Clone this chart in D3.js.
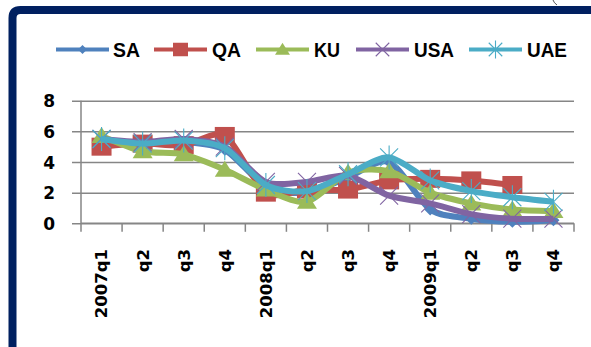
<!DOCTYPE html>
<html>
<head>
<meta charset="utf-8">
<script src="https://cdn.jsdelivr.net/npm/d3@7"></script>
<style>
  html, body { margin: 0; padding: 0; background: #fff; }
  svg { display: block; }
</style>
</head>
<body>
<svg id="chart" width="591" height="347"></svg>
<script>
// Quarterly series, 2007q1 – 2009q4
const quarters = ["2007q1", "q2", "q3", "q4", "2008q1", "q2 ", "q3 ", "q4 ", "2009q1", "q2  ", "q3  ", "q4  "];
const quarterLabels = ["2007q1", "q2", "q3", "q4", "2008q1", "q2", "q3", "q4", "2009q1", "q2", "q3", "q4"];
const seriesNames = ["SA", "QA", "KU", "USA", "UAE"];
const saValues  = [5.4, 5.2, 5.3, 4.8, 2.4, 2.0, 3.0, 4.0, 0.9, 0.3, 0.1, 0.2];
const qaValues  = [5.0, 5.2, 5.1, 5.7, 2.0, 2.2, 2.2, 2.8, 2.9, 2.8, 2.5, null];
const kuValues  = [5.7, 4.7, 4.5, 3.5, 2.2, 1.4, 3.3, 3.4, 2.0, 1.3, 0.9, 0.8];
const usaValues = [5.5, 5.3, 5.5, 5.0, 2.7, 2.7, 3.1, 1.8, 1.3, 0.6, 0.3, 0.3];
const uaeValues = [5.5, 5.2, 5.4, 4.9, 2.5, 2.1, 3.2, 4.3, 2.8, 2.1, 1.7, 1.4];
const yTicks = [0, 2, 4, 6, 8];
const seriesColors = ["#4F81BD", "#C0504D", "#9BBB59", "#8064A2", "#4BACC6"];
const markerKinds = ["diamond", "square", "triangle", "cross", "asterisk"];

const series = seriesNames.map((name, i) => ({
  name,
  values: [saValues, qaValues, kuValues, usaValues, uaeValues][i],
  color: seriesColors[i],
  marker: markerKinds[i]
}));

const svg = d3.select("#chart");

// Frame
svg.append("path")
  .attr("d", "M12.5,700 L12.5,18 Q12.5,10 20.5,10 L700,10")
  .attr("fill", "none")
  .attr("stroke", "#002060")
  .attr("stroke-width", 8);
svg.append("path")
  .attr("d", "M553,0 Q554,3 557,5")
  .attr("fill", "none")
  .attr("stroke", "#555")
  .attr("stroke-width", 1);

const plot = { left: 81, right: 574, top: 100.7, bottom: 223.3 };

const x = d3.scaleBand().domain(quarters).range([plot.left, plot.right]).padding(0);
const y = d3.scaleLinear().domain([0, 8]).range([plot.bottom, plot.top]);

// Gridlines + y axis
const yAxis = d3.axisLeft(y).tickValues(yTicks).tickSize(plot.right - plot.left + 9).tickFormat(d3.format("d")).tickPadding(17);
const gy = svg.append("g").attr("transform", `translate(${plot.right},0)`).call(yAxis);
gy.select(".domain").remove();
gy.selectAll(".tick line").attr("stroke", "#868686").attr("stroke-width", 1.5);
gy.selectAll(".tick text")
  .attr("font-family", "DejaVu Sans, sans-serif")
  .attr("font-weight", "bold")
  .attr("font-size", 17)
  .attr("fill", "#000")
  .attr("dy", "0.36em");

// Vertical axis line
svg.append("line")
  .attr("x1", plot.left).attr("x2", plot.left)
  .attr("y1", y(8)).attr("y2", y(0))
  .attr("stroke", "#868686").attr("stroke-width", 1.5);

// X axis with ticks between categories
const xg = svg.append("g");
const boundaries = quarters.map(q => x(q)).concat([x(quarters[quarters.length - 1]) + x.bandwidth()]);
xg.selectAll("line.tick").data(boundaries).join("line")
  .attr("x1", d => d).attr("x2", d => d)
  .attr("y1", y(0)).attr("y2", y(0) + 8.5)
  .attr("stroke", "#868686").attr("stroke-width", 1.5);
xg.append("line")
  .attr("x1", plot.left).attr("x2", plot.right)
  .attr("y1", y(0)).attr("y2", y(0))
  .attr("stroke", "#868686").attr("stroke-width", 1.5);
xg.selectAll("text").data(quarters).join("text")
  .attr("transform", d => `translate(${x(d) + x.bandwidth() / 2},249) rotate(-90)`)
  .attr("text-anchor", "end")
  .attr("dy", "0.36em")
  .attr("font-family", "DejaVu Sans, sans-serif")
  .attr("font-weight", "bold")
  .attr("font-size", 16.5)
  .attr("fill", "#000")
  .text((d, i) => quarterLabels[i]);

// Marker shapes
function drawMarker(g, kind, color, cx, cy, scale = 1) {
  if (kind === "diamond") {
    g.append("path")
      .attr("d", `M${cx},${cy - 6 * scale} L${cx + 6 * scale},${cy} L${cx},${cy + 6 * scale} L${cx - 6 * scale},${cy} Z`)
      .attr("fill", color);
  } else if (kind === "square") {
    g.append("rect")
      .attr("x", cx - 10 * scale).attr("y", cy - 9 * scale)
      .attr("width", 20 * scale).attr("height", 18 * scale)
      .attr("fill", color);
  } else if (kind === "triangle") {
    g.append("path")
      .attr("d", `M${cx},${cy - 9 * scale} L${cx + 10 * scale},${cy + 7 * scale} L${cx - 10 * scale},${cy + 7 * scale} Z`)
      .attr("fill", color);
  } else if (kind === "cross") {
    g.append("path")
      .attr("d", `M${cx - 9 * scale},${cy - 9 * scale} L${cx + 9 * scale},${cy + 9 * scale} M${cx + 9 * scale},${cy - 9 * scale} L${cx - 9 * scale},${cy + 9 * scale}`)
      .attr("stroke", color).attr("stroke-width", 1.1).attr("fill", "none");
  } else if (kind === "asterisk") {
    g.append("path")
      .attr("d", `M${cx - 9 * scale},${cy - 9 * scale} L${cx + 9 * scale},${cy + 9 * scale} M${cx + 9 * scale},${cy - 9 * scale} L${cx - 9 * scale},${cy + 9 * scale} M${cx},${cy - 12 * scale} L${cx},${cy + 12 * scale}`)
      .attr("stroke", color).attr("stroke-width", 1.1).attr("fill", "none");
  }
}

// Series lines (smoothed) and markers, drawn in series order
const line = d3.line()
  .defined(d => d.v != null)
  .x(d => x(d.q) + x.bandwidth() / 2)
  .y(d => y(d.v))
  .curve(d3.curveCardinal.tension(0.2));

series.forEach(s => {
  const pts = s.values.map((v, i) => ({ q: quarters[i], v }));
  const g = svg.append("g");
  g.append("path")
    .datum(pts)
    .attr("d", line)
    .attr("fill", "none")
    .attr("stroke", s.color)
    .attr("stroke-width", 6)
    .attr("stroke-linejoin", "round");
  pts.filter(p => p.v != null).forEach(p => {
    drawMarker(g, s.marker, s.color, x(p.q) + x.bandwidth() / 2, y(p.v));
  });
});

// Legend
const legendItems = [
  { x1: 56, x2: 109, tx: 113, tw: 27 },
  { x1: 154, x2: 207, tx: 212, tw: 29 },
  { x1: 256, x2: 309, tx: 314, tw: 26 },
  { x1: 356, x2: 409, tx: 414, tw: 40 },
  { x1: 469, x2: 522, tx: 527, tw: 40 }
];
const legendY = 49.5;
const lg = svg.append("g");
series.forEach((s, i) => {
  const it = legendItems[i];
  lg.append("line")
    .attr("x1", it.x1).attr("x2", it.x2)
    .attr("y1", legendY).attr("y2", legendY)
    .attr("stroke", s.color).attr("stroke-width", 4);
  drawMarker(lg, s.marker, s.color, (it.x1 + it.x2) / 2, legendY, 0.75);
  lg.append("text")
    .attr("x", it.tx).attr("y", legendY)
    .attr("dy", "0.36em")
    .attr("font-family", "Liberation Sans, Arial, sans-serif")
    .attr("font-weight", "bold")
    .attr("font-size", 21)
    .attr("textLength", it.tw)
    .attr("lengthAdjust", "spacingAndGlyphs")
    .attr("fill", "#000")
    .text(s.name);
});
</script>
</body>
</html>
